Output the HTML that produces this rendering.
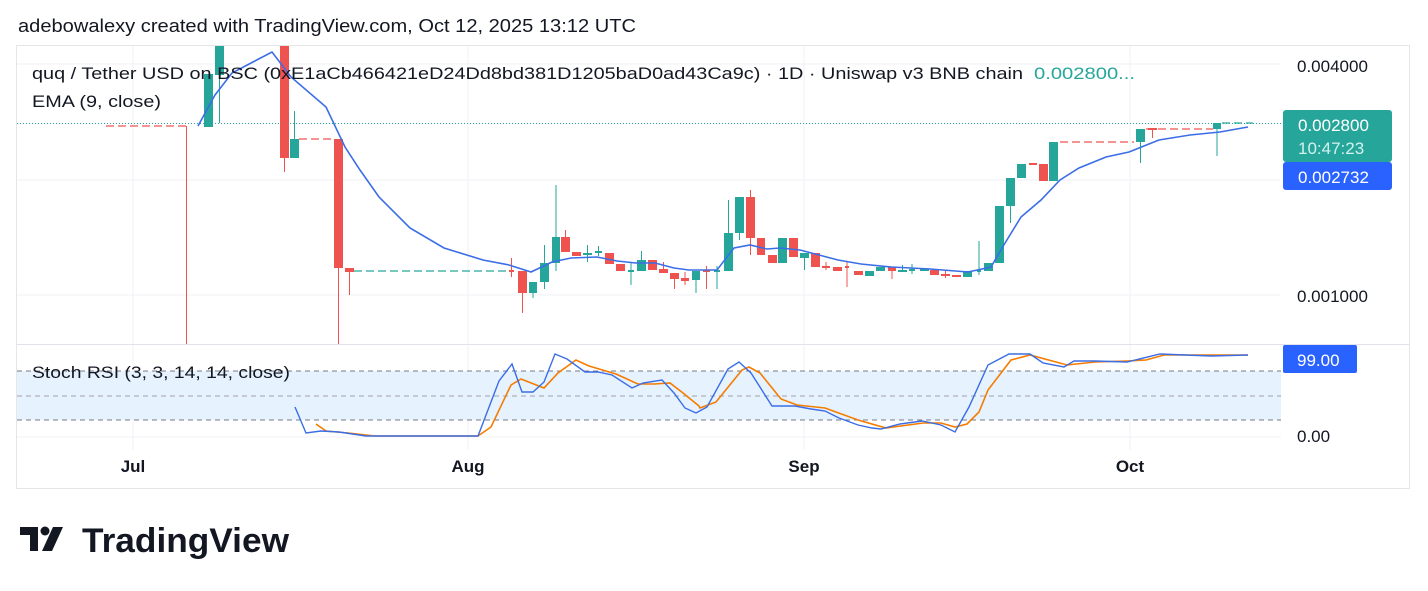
<!DOCTYPE html>
<html><head><meta charset="utf-8"><style>
html,body{margin:0;padding:0;background:#fff;width:1428px;height:591px;overflow:hidden}
text{font-family:"Liberation Sans",Arial,sans-serif}
</style></head><body>
<svg width="1428" height="591" viewBox="0 0 1428 591" xmlns="http://www.w3.org/2000/svg">
<text x="18" y="32" font-size="18.5" fill="#131722" textLength="618" lengthAdjust="spacingAndGlyphs">adebowalexy created with TradingView.com, Oct 12, 2025 13:12 UTC</text>
<rect x="16.5" y="45.5" width="1393" height="443" fill="#fff" stroke="#e6e6e6"/>
<!-- grid -->
<g stroke="#f0f2f5" stroke-width="1">
<line x1="133" y1="46" x2="133" y2="450"/><line x1="468" y1="46" x2="468" y2="450"/>
<line x1="804" y1="46" x2="804" y2="450"/><line x1="1130" y1="46" x2="1130" y2="450"/>
<line x1="17" y1="64" x2="1280" y2="64"/><line x1="17" y1="180" x2="1280" y2="180"/><line x1="17" y1="295" x2="1280" y2="295"/>
</g>
<line x1="17" y1="344.5" x2="1409" y2="344.5" stroke="#e0e3eb"/>
<!-- stoch band -->
<rect x="17" y="371" width="1264" height="49" fill="#e3f1fd" opacity="0.9"/>
<g stroke="#787b86" stroke-dasharray="5,4" stroke-width="1">
<line x1="17" y1="371" x2="1281" y2="371"/><line x1="17" y1="420" x2="1281" y2="420"/>
</g>
<line x1="17" y1="396" x2="1281" y2="396" stroke="#a0a3ad" stroke-dasharray="5,4"/>
<line x1="17" y1="437" x2="1281" y2="437" stroke="#f0f2f5"/>
<!-- current price dotted -->
<line x1="17" y1="123.5" x2="1283" y2="123.5" stroke="#26a69a" stroke-dasharray="1,2"/>
<!-- flat dashes -->
<g stroke-width="1.3" stroke-dasharray="8,4">
<line x1="106" y1="126" x2="186" y2="126" stroke="#ef5350"/>
<line x1="299" y1="139" x2="333" y2="139" stroke="#ef5350"/>
<line x1="354" y1="271" x2="512" y2="271" stroke="#26a69a"/>
<line x1="1060" y1="142" x2="1134" y2="142" stroke="#ef5350"/>
<line x1="1146" y1="129" x2="1213" y2="129" stroke="#ef5350"/>
<line x1="1222" y1="123" x2="1253" y2="123" stroke="#26a69a"/>
</g>
<g id="candles"></g>
<!-- EMA -->
<polyline fill="none" stroke="#3b6ee6" stroke-width="1.6" points="198,126 215,95 232,73 272,52 291,77 326,107 345,147 360,170 379,197 410,228 444,248 483,260 509,265 531,272 552,262 571,258 597,257 617,261 636,263 655,263 674,268 689,270 700,270 717,270 734,248 750,245 767,249 780,248 800,250 819,255 838,260 861,264 891,267 930,269 968,272 991,267 1002,248 1021,217 1041,200 1060,180 1079,168 1106,157 1129,152 1159,140 1190,135 1220,132 1248,127"/>
<!-- stoch -->
<polyline fill="none" stroke="#f57c00" stroke-width="1.6" points="316,424 326,431 348,433 375,436 478,436 491,427 511,385 521,379 544,388 558,373 576,360 589,366 616,374 638,384 654,384 670,383 683,393 699,406 700,408 716,402 742,370 749,367 760,373 781,399 797,405 825,408 858,420 886,428 923,423 941,423 955,427 967,424 979,412 988,390 1011,360 1030,355 1067,365 1095,362 1127,361 1146,360 1164,355 1248,355"/>
<polyline fill="none" stroke="#3b6ee6" stroke-width="1.4" points="295,407 306,433 321,431 339,432 366,436 478,436 499,381 512,364 522,392 533,392 544,382 555,354 567,359 585,372 598,372 612,375 632,388 643,383 662,380 674,393 685,408 696,413 707,407 728,369 739,362 751,373 772,406 795,406 811,409 825,411 839,418 858,425 872,428 881,429 900,424 922,421 941,425 955,432 969,407 988,365 1009,354 1030,354 1043,363 1064,367 1074,361 1095,361 1127,362 1160,354 1211,356 1248,355"/>
<!-- titles -->
<text x="32" y="79" font-size="17" fill="#131722" textLength="991" lengthAdjust="spacingAndGlyphs">quq / Tether USD on BSC (0xE1aCb466421eD24Dd8bd381D1205baD0ad43Ca9c) · 1D · Uniswap v3 BNB chain</text>
<text x="1034" y="79" font-size="17" fill="#26a69a" textLength="101" lengthAdjust="spacingAndGlyphs">0.002800...</text>
<text x="32" y="107" font-size="17" fill="#131722" textLength="129" lengthAdjust="spacingAndGlyphs">EMA (9, close)</text>
<text x="32" y="378" font-size="17" fill="#131722" textLength="258" lengthAdjust="spacingAndGlyphs">Stoch RSI (3, 3, 14, 14, close)</text>
<!-- price axis -->
<text x="1297" y="72" font-size="17" fill="#131722">0.004000</text>
<text x="1297" y="302" font-size="17" fill="#131722">0.001000</text>
<rect x="1283" y="110" width="109" height="52" rx="3" fill="#26a69a"/>
<text x="1298" y="131" font-size="17" fill="#fff">0.002800</text>
<text x="1298" y="154" font-size="17" fill="#d4f1ee">10:47:23</text>
<rect x="1283" y="162" width="109" height="28" rx="3" fill="#2962ff"/>
<text x="1298" y="183" font-size="17" fill="#fff">0.002732</text>
<rect x="1283" y="345" width="74" height="28" rx="2" fill="#2962ff"/>
<text x="1297" y="366" font-size="17" fill="#fff">99.00</text>
<text x="1297" y="442" font-size="17" fill="#131722">0.00</text>
<!-- time axis -->
<g font-size="17" font-weight="bold" fill="#131722" text-anchor="middle">
<text x="133" y="472">Jul</text><text x="468" y="472">Aug</text><text x="804" y="472">Sep</text><text x="1130" y="472">Oct</text>
</g>
<!-- logo -->
<g fill="#131722">
<path d="M20 527h18v24h-8v-16h-10z"/>
<circle cx="45" cy="531" r="4.5"/>
<path d="M53 527h10l-11 24h-10z"/>
</g>
<text x="82" y="552" font-size="34" font-weight="bold" fill="#131722" textLength="207" lengthAdjust="spacingAndGlyphs">TradingView</text>
</svg>
<script>
var C=[
[186,1,126,126,126,344,'r'],
[204,9,74,127,74,127,'g'],[215,9,46,75,46,123,'g'],
[280,9,46,158,46,172,'r'],[290,9,139,158,111,158,'g'],
[334,9,139,268,139,344,'r'],[345,9,268,272,268,295,'r'],
[509,5,270,272,258,277,'r'],
[518,9,271,293,271,313,'r'],[529,8,282,293,282,298,'g'],[540,9,263,282,245,289,'g'],[552,8,237,263,185,271,'g'],
[561,9,237,252,230,252,'r'],[572,9,252,256,252,256,'r'],[583,9,253,255,245,262,'g'],[595,7,251,253,246,256,'g'],
[605,9,253,264,253,264,'r'],[616,9,264,271,264,271,'r'],[628,6,270,272,262,285,'g'],[637,9,260,271,251,271,'g'],
[648,9,260,270,260,270,'r'],[659,9,269,273,262,273,'r'],[670,9,273,279,273,289,'r'],[681,8,278,281,272,285,'r'],
[692,8,271,280,271,293,'g'],[703,7,270,272,266,289,'r'],[714,6,270,272,266,289,'g'],
[724,9,233,271,200,271,'g'],[735,9,197,233,197,240,'g'],[746,9,197,238,190,255,'r'],[757,8,238,255,238,255,'r'],
[768,9,255,263,255,263,'r'],[778,9,238,263,238,263,'g'],[789,9,238,257,238,257,'r'],[800,9,253,258,253,270,'g'],
[811,9,253,267,253,267,'r'],[822,8,266,268,262,270,'r'],[833,9,267,271,267,271,'r'],[845,4,266,268,262,287,'r'],
[854,9,271,275,271,275,'r'],[865,9,271,276,271,276,'g'],[876,9,267,271,267,271,'g'],[888,8,267,271,267,279,'r'],
[898,9,270,272,265,272,'g'],[909,6,269,271,264,274,'g'],[920,9,269,271,269,271,'g'],[930,9,270,275,270,275,'r'],
[941,9,274,276,270,278,'r'],[952,9,275,277,275,277,'r'],[963,9,271,277,271,277,'g'],[977,4,270,272,241,275,'g'],
[984,9,263,271,263,271,'g'],[995,9,206,263,206,263,'g'],[1006,9,178,206,178,223,'g'],[1017,9,164,178,164,178,'g'],
[1029,8,163,165,163,165,'r'],[1039,9,164,181,164,181,'r'],[1049,9,142,181,142,181,'g'],
[1136,9,129,142,129,163,'g'],[1148,9,128,130,129,138,'r'],[1213,8,123,129,123,156,'g']];
var g=document.getElementById('candles'),ns='http://www.w3.org/2000/svg',s='';
C.forEach(function(c){var col=c[6]=='g'?'#26a69a':'#ef5350',cx=c[0]+c[1]/2;
s+='<line x1="'+cx+'" x2="'+cx+'" y1="'+c[4]+'" y2="'+c[5]+'" stroke="'+col+'" stroke-width="1"/>';
s+='<rect x="'+c[0]+'" y="'+c[2]+'" width="'+c[1]+'" height="'+Math.max(1.5,c[3]-c[2])+'" fill="'+col+'"/>';});
g.innerHTML=s;
</script>
</body></html>
